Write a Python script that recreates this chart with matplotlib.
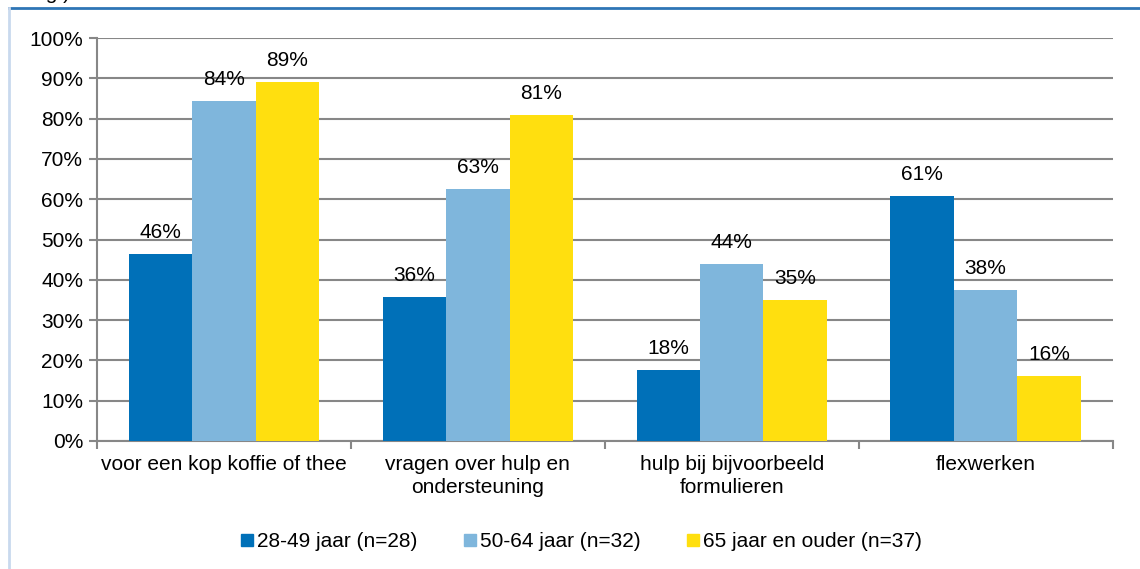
import numpy as np
import matplotlib.pyplot as plt
from matplotlib.lines import Line2D

plt.rcParams['font.family'] = ['Liberation Sans', 'DejaVu Sans']

categories = ['voor een kop koffie of thee', 'vragen over hulp en\nondersteuning',
              'hulp bij bijvoorbeeld\nformulieren', 'flexwerken']
series = ['28-49 jaar (n=28)', '50-64 jaar (n=32)', '65 jaar en ouder (n=37)']
values = [
    [46.4, 35.7, 17.6, 60.8],
    [84.4, 62.5, 43.9, 37.5],
    [89.1, 80.9, 35.0, 16.1],
]
labels = [
    [46, 36, 18, 61],
    [84, 63, 44, 38],
    [89, 81, 35, 16],
]
colors = ['#0070B8', '#7FB6DC', '#FFDF0F']
yticks = [0, 10, 20, 30, 40, 50, 60, 70, 80, 90, 100]

fig = plt.figure(figsize=(11.4, 5.69), dpi=100)
ax = fig.add_axes([0.085, 0.225, 0.891, 0.708])

x = np.arange(len(categories))
w = 0.25
for i, (vals, labs, c) in enumerate(zip(values, labels, colors)):
    pos = x + (i - 1) * w
    ax.bar(pos, vals, width=w, color=c, label=series[i], zorder=3)
    for p, v, l in zip(pos, vals, labs):
        ax.text(p, v + 3, f'{l}%', ha='center', va='bottom', fontsize=15, zorder=4)

ax.set_xlim(-0.5, len(categories) - 0.5)
ax.set_ylim(0, 100)
ax.set_yticks(yticks)
ax.set_yticklabels([f'{t}%' for t in yticks], fontsize=15)
ax.yaxis.grid(True, color='#878787', linewidth=1.5, zorder=0)
ax.set_xticks(x)
ax.set_xticklabels(categories, fontsize=15, va='top', linespacing=1.25)
ax.tick_params(axis='x', length=0, pad=10)
ax.tick_params(axis='y', length=6, color='#878787', width=1.5, pad=4)
# category separator ticks on the x axis
ax.set_xticks(np.arange(len(categories) + 1) - 0.5, minor=True)
ax.tick_params(axis='x', which='minor', length=6, color='#878787', width=1.5)
for s in ['top', 'right']:
    ax.spines[s].set_visible(False)
for s in ['left', 'bottom']:
    ax.spines[s].set_color('#878787')
    ax.spines[s].set_linewidth(1.5)

handles = [Line2D([], [], marker='s', linestyle='none', markersize=9, color=c) for c in colors]
fig.legend(handles, series, loc='center', bbox_to_anchor=(0.508, 0.048), ncol=3,
           frameon=False, fontsize=15, handletextpad=0.0, columnspacing=2.0,
           handlelength=1.0)

# outer frame of the original chart box
fig.add_artist(Line2D([0.008, 1.0], [0.986, 0.986], color='#2E75B6', linewidth=2))
fig.add_artist(Line2D([0.008, 0.008], [0.0, 0.986], color='#C9D9EE', linewidth=2))
fig.text(0.062, 1.012, 'ng.)', fontsize=15, va='center', ha='right')

fig.savefig('out.png', dpi=100)
